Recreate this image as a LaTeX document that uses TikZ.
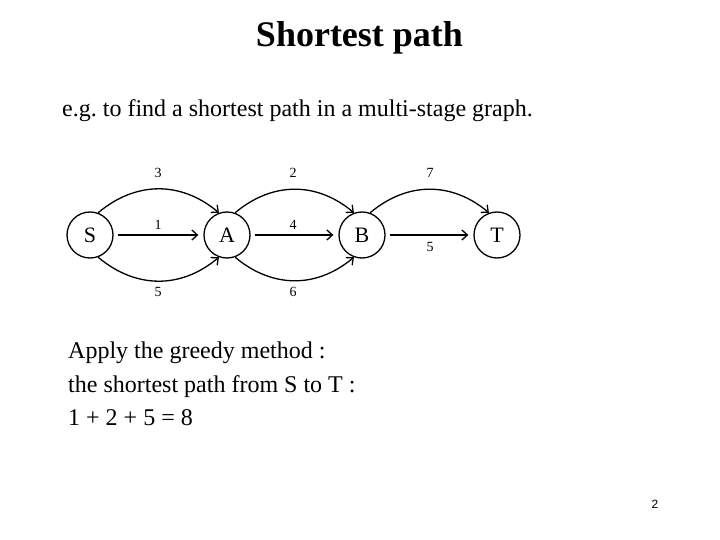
\documentclass[tikz,border=0pt]{standalone}
\usepackage{fontspec}
\setmainfont{Liberation Serif}
\newfontfamily\pgnumfont{Liberation Sans}
\usetikzlibrary{arrows.meta}
\frenchspacing
\begin{document}
\begin{tikzpicture}[x=1pt,y=-1pt,
  vtx/.style={circle,draw,line width=1.3pt,minimum size=46pt,inner sep=0pt,font=\fontsize{22}{26}\selectfont},
  lbl/.style={inner sep=0pt,font=\fontsize{14}{16}\selectfont},
  arr/.style={line width=1.3pt,-{Straight Barb[length=5.5pt,width=10pt,line width=1.3pt]}},
  txt/.style={inner sep=0pt,anchor=base west,font=\fontsize{24}{28}\selectfont}]
\useasboundingbox (0,0) rectangle (720,540);
\node[inner sep=0pt,anchor=base,font=\fontsize{36}{42}\selectfont\bfseries] (title) at (359.5,47) {Shortest path};
\node[txt] (sub) at (62,117) {e.g. to find a shortest path in a multi-stage graph.};
\node[vtx] (S) at (90,235) {S};
\node[vtx] (A) at (227,235) {A};
\node[vtx] (B) at (362,235) {B};
\node[vtx] (T) at (497,235) {T};
\draw[arr,shorten <=4pt,shorten >=5pt] (S) -- (A);
\draw[arr,shorten <=4pt,shorten >=5pt] (A) -- (B);
\draw[arr,shorten <=4pt,shorten >=5pt] (B) -- (T);
\draw[arr] (S.70) to[out=40,in=140,looseness=1.05] (A.110);
\draw[arr] (A.70) to[out=40,in=140,looseness=1.05] (B.110);
\draw[arr] (B.70) to[out=40,in=140,looseness=1.05] (T.110);
\draw[arr] (S.-70) to[out=-40,in=-140,looseness=1.05] (A.-110);
\draw[arr] (A.-70) to[out=-40,in=-140,looseness=1.05] (B.-110);
\node[lbl] (l3) at (158,173) {3};
\node[lbl] (l2) at (293,173) {2};
\node[lbl] (l7) at (430,173) {7};
\node[lbl] (l1) at (158,225) {1};
\node[lbl] (l4) at (293,225) {4};
\node[lbl] (l5a) at (430,247) {5};
\node[lbl] (l5b) at (158,292) {5};
\node[lbl] (l6) at (293,292) {6};
\node[txt] (t1) at (68,358) {Apply the greedy method :};
\node[txt] (t2) at (68,392) {the shortest path from S to T :};
\node[txt] (t3) at (68,425) {1 + 2 + 5 = 8};
\node[inner sep=0pt,anchor=base,font=\pgnumfont\fontsize{12}{14}\selectfont] (pg) at (655,508) {2};
\end{tikzpicture}
\end{document}
